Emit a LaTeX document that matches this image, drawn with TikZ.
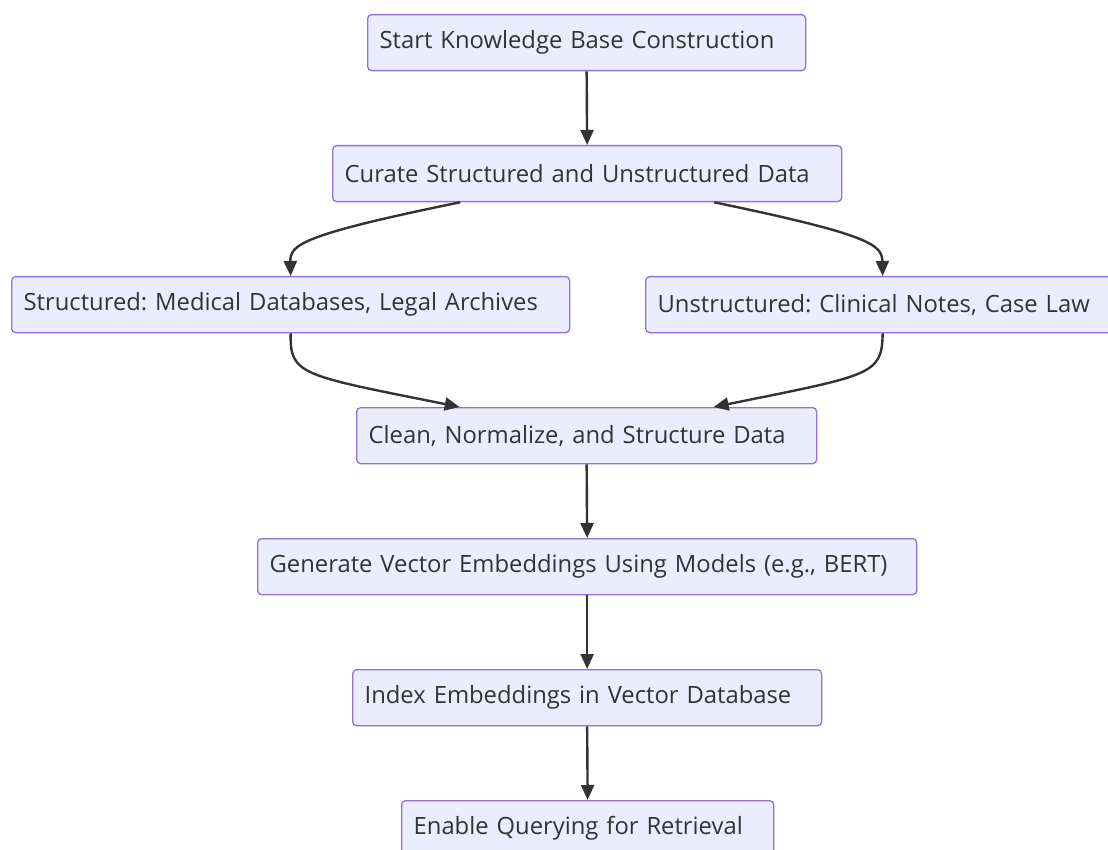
\documentclass[tikz,border=0pt]{standalone}
\usepackage{fontspec}
\setmainfont{Open Sans}
\usetikzlibrary{positioning, arrows.meta, calc}

\definecolor{boxfill}{HTML}{ECECFF}
\definecolor{boxline}{HTML}{9370DB}
\definecolor{ink}{HTML}{333333}

\tikzset{
    stepbox/.style={draw=boxline, line width=1.3pt, fill=boxfill, rounded corners=4pt,
        anchor=north west, minimum height=56pt, inner xsep=12pt, align=left,
        text=ink, font=\fontsize{23.8}{28}\selectfont},
    flow/.style={draw=ink, line width=2.4pt, -{Triangle[length=15pt, width=13pt]}}
}

\frenchspacing
\begin{document}
\begin{tikzpicture}[x=1pt, y=-1pt]

        \useasboundingbox (0,0) rectangle (1108,850);

        % boxes, widths from left edge to right edge
        \node[stepbox, text width=414pt] (start) at (367,14) {Start Knowledge Base Construction};
        \node[stepbox, text width=485pt] (curate) at (332,145) {Curate Structured and Unstructured Data};
        \node[stepbox, text width=534pt] (structured) at (11,276) {Structured: Medical Databases, Legal Archives};
        \node[stepbox, text width=450pt] (unstructured) at (645,276) {Unstructured: Clinical Notes, Case Law};
        \node[stepbox, text width=436pt] (clean) at (356,407) {Clean, Normalize, and Structure Data};
        \node[stepbox, text width=635pt] (embed) at (257,538) {Generate Vector Embeddings Using Models (e.g., BERT)};
        \node[stepbox, text width=445pt] (index) at (352,669) {Index Embeddings in Vector Database};
        \node[stepbox, text width=348pt] (query) at (401,800) {Enable Querying for Retrieval};

        \path[flow] (start.south) -- (curate.north);

        % split into the two kinds of data
        \coordinate (c1) at ([xshift=-127pt]curate.south);
        \coordinate (c2) at ([xshift=127pt]curate.south);
        \path[flow] (c1) .. controls (300,235) and (290,245) .. (structured.north);
        \path[flow] (c2) .. controls (872,235) and (882,245) .. (unstructured.north);

        % and back together
        \coordinate (m1) at ([xshift=-127pt]clean.north);
        \coordinate (m2) at ([xshift=127pt]clean.north);
        \path[flow] (structured.south) .. controls (290,375) and (300,375) .. (m1);
        \path[flow] (unstructured.south) .. controls (882,375) and (872,375) .. (m2);

        \path[flow] (clean.south) -- (embed.north);
        \path[flow] (embed.south) -- (index.north);
        \path[flow] (index.south) -- (query.north);

    \end{tikzpicture}
\end{document}
